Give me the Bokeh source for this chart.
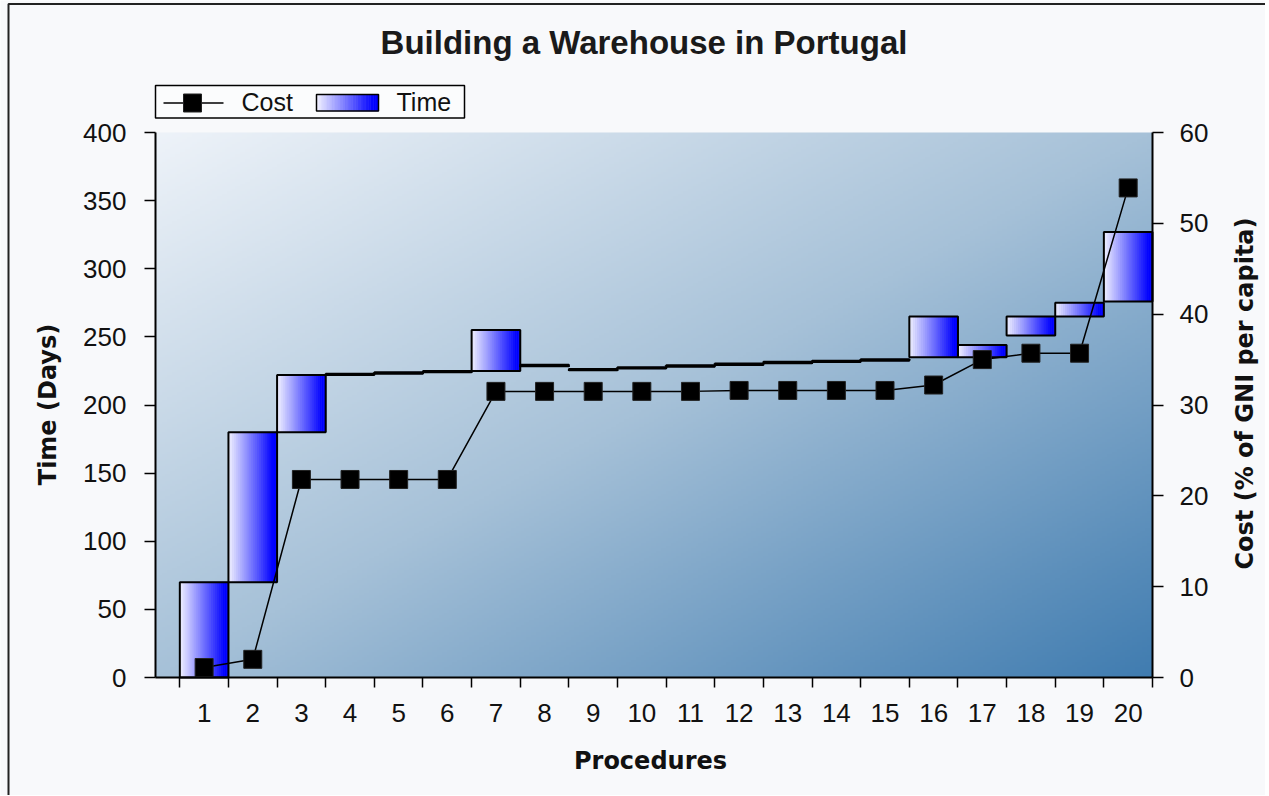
import math
import numpy as np
from bokeh.plotting import figure
from bokeh.models import Range1d, LinearAxis, FixedTicker
from bokeh.core.properties import value
from bokeh.embed import file_html
from bokeh.resources import INLINE

# ---------------- data ----------------
title_text = "Building a Warehouse in Portugal"
legend_labels = ["Cost", "Time"]
x_title = "Procedures"
y_title = "Time (Days)"
y2_title = "Cost (% of GNI per capita)"

procedures = ["1", "2", "3", "4", "5", "6", "7", "8", "9", "10",
              "11", "12", "13", "14", "15", "16", "17", "18", "19", "20"]
time_start = [0, 70, 180, 222, 223, 224, 225, 228.5, 225.5, 226.7,
              228.1, 229.4, 230.7, 231.5, 232.5, 235, 235, 251, 265, 276]
time_end = [70, 180, 222, 223, 224, 225, 255, 229.5, 226.5, 227.7,
            229.1, 230.4, 231.7, 232.5, 233.5, 265, 244, 265, 275, 327]
cost = [1.1, 2.0, 21.8, 21.8, 21.8, 21.8, 31.5, 31.5, 31.5, 31.5,
        31.5, 31.6, 31.6, 31.6, 31.6, 32.2, 35.0, 35.7, 35.7, 53.9]
time_ticks = [0, 50, 100, 150, 200, 250, 300, 350, 400]
cost_ticks = [0, 10, 20, 30, 40, 50, 60]

# ---------------- layout (page pixels) ----------------
PAGE = "#f8f9fb"
W, H = 1265, 795
PLOT_L, PLOT_R, PLOT_T, PLOT_B = 155, 1152, 132, 677
TICK_FONT = "Liberation Sans"
TITLE_FONT = "DejaVu Sans"
N_STRIP = 24

n = len(procedures)
xs = np.arange(1, n + 1, dtype=float)
x_lo, x_hi = 0.0, n + 0.5
y_lo, y_hi = time_ticks[0], time_ticks[-1]
c_lo, c_hi = cost_ticks[0], cost_ticks[-1]
SX = (PLOT_R - PLOT_L) / (x_hi - x_lo)
SY = (PLOT_B - PLOT_T) / (y_hi - y_lo)
SC = (PLOT_B - PLOT_T) / (c_hi - c_lo)


def dx(px):
    return x_lo + (px - PLOT_L) / SX


def dy(py):
    return y_lo + (PLOT_B - py) / SY


def grad_color(s):
    f = max(0.0, 1.0 - s / 0.92)
    c = int(round(245 * f))
    return "#%02x%02x%02x" % (c, c, 255)


strip_colors = [grad_color((k + 0.5) / N_STRIP) for k in range(N_STRIP)]

p = figure(width=W, height=H, x_range=Range1d(dx(0), dx(W)), y_range=Range1d(dy(H), dy(0)),
           output_backend="svg", toolbar_location=None, min_border=0,
           background_fill_color=PAGE, border_fill_color=PAGE, outline_line_color=None)
p.xgrid.visible = False
p.ygrid.visible = False
p.extra_y_ranges = {"cost": Range1d(c_lo + (PLOT_B - H) / SC, c_lo + PLOT_B / SC)}

# window frame lines (top and left) of the picture
p.line(x=[dx(8), dx(8), dx(W)], y=[dy(H), dy(3.5), dy(3.5)], line_color="#222222", line_width=2)

# background gradient of the plot area
nx, ny = 400, 220
u = np.linspace(0, 1, nx)[None, :]
vdown = np.linspace(1, 0, ny)[:, None]
t = 0.5 * (u + vdown)
stops = [0.0, 0.5, 1.0]
R = np.interp(t, stops, [238, 166, 64])
G = np.interp(t, stops, [243, 193, 124])
B = np.interp(t, stops, [249, 216, 176])
img = np.empty((ny, nx), dtype=np.uint32)
view = img.view(dtype=np.uint8).reshape((ny, nx, 4))
view[:, :, 0] = R.astype(np.uint8)
view[:, :, 1] = G.astype(np.uint8)
view[:, :, 2] = B.astype(np.uint8)
view[:, :, 3] = 255
p.image_rgba(image=[img], x=x_lo, y=y_lo, dw=x_hi - x_lo, dh=y_hi - y_lo, level="image")

# gradient strips of the floating bars
L, Rr, Bo, To, C = [], [], [], [], []
for i in range(n):
    for k in range(N_STRIP):
        L.append(xs[i] - 0.5 + k / N_STRIP)
        Rr.append(xs[i] - 0.5 + (k + 1) / N_STRIP)
        Bo.append(time_start[i])
        To.append(time_end[i])
        C.append(strip_colors[k])
p.quad(left=L, right=Rr, bottom=Bo, top=To, fill_color=C, line_color=C, line_width=0.6)
p.quad(left=xs - 0.5, right=xs + 0.5, bottom=time_start, top=time_end,
       fill_color=None, line_color="black", line_width=2)

# cost line
p.line(xs, cost, y_range_name="cost", line_color="black", line_width=1.5)
p.scatter(xs, cost, y_range_name="cost", marker="square", size=18,
          fill_color="black", line_color="#222222", line_width=1)

# ---------------- axes ----------------
xa = p.xaxis[0]
xa.fixed_location = y_lo
xa.bounds = (x_lo, x_hi)
xa.ticker = FixedTicker(ticks=list(xs), minor_ticks=list(np.append(xs - 0.5, xs[-1] + 0.5)))
xa.major_label_overrides = {float(x): lab for x, lab in zip(xs, procedures)}
xa.major_tick_out = 0
xa.major_tick_in = 0
xa.minor_tick_out = 10
xa.minor_tick_in = 0
xa.minor_tick_line_color = "black"
xa.minor_tick_line_width = 1.5
xa.major_label_standoff = 16

ya = p.yaxis[0]
ya.fixed_location = x_lo
ya.bounds = (y_lo, y_hi)
ya.ticker = FixedTicker(ticks=time_ticks)
ya.major_label_standoff = 18

ya2 = LinearAxis(y_range_name="cost", ticker=FixedTicker(ticks=cost_ticks),
                 fixed_location=x_hi, bounds=(c_lo, c_hi))
ya2.major_label_standoff = 16
ya2.major_label_text_align = "left"
p.add_layout(ya2, "right")

for ax in (ya, ya2):
    ax.major_tick_out = 11
    ax.major_tick_in = 0
    ax.minor_tick_out = 0
    ax.minor_tick_in = 0
    ax.major_tick_line_color = "black"
    ax.major_tick_line_width = 1.5

for ax in (xa, ya, ya2):
    ax.axis_line_color = "black"
    ax.axis_line_width = 2
    ax.major_label_text_font = TICK_FONT
    ax.major_label_text_font_size = "26px"
    ax.major_label_text_color = "#111111"

# axis titles
title_style = dict(text_font=value(TITLE_FONT), text_font_style="bold", text_font_size="24px",
                   text_color="#111111", text_align="center", text_baseline="middle")
p.text(x=[dx(650)], y=[dy(760)], text=[x_title], **title_style)
p.text(x=[dx(47)], y=[dy(404)], text=[y_title], angle=math.pi / 2, **title_style)
p.text(x=[dx(1244)], y=[dy(393)], text=[y2_title], angle=math.pi / 2, **title_style)

# chart title
p.text(x=[dx(643.5)], y=[dy(42)], text=[title_text], text_font=value("Liberation Sans"),
       text_font_style="bold", text_font_size="33px", text_align="center",
       text_baseline="middle", text_color="#1a1a1a")

# ---------------- legend ----------------
p.quad(left=[dx(155)], right=[dx(464)], top=[dy(85)], bottom=[dy(117.5)], fill_color="#fbfcfd",
       line_color="black", line_width=1.5)
p.line(x=[dx(163), dx(223)], y=[dy(102.5), dy(102.5)], line_color="black", line_width=1.5)
p.scatter(x=[dx(192)], y=[dy(102.5)], marker="square", size=18, fill_color="black",
          line_color="#222222")
sw_l, sw_r, sw_t, sw_b = 316, 378, 94, 110.5
sw = (sw_r - sw_l) / N_STRIP
p.quad(left=[dx(sw_l + k * sw) for k in range(N_STRIP)],
       right=[dx(sw_l + (k + 1) * sw) for k in range(N_STRIP)],
       top=[dy(sw_t)] * N_STRIP, bottom=[dy(sw_b)] * N_STRIP, fill_color=strip_colors,
       line_color=strip_colors, line_width=0.6)
p.quad(left=[dx(sw_l)], right=[dx(sw_r)], top=[dy(sw_t)], bottom=[dy(sw_b)], fill_color=None,
       line_color="black", line_width=1.5)
p.text(x=[dx(241), dx(396)], y=[dy(101.5), dy(101.5)], text=legend_labels,
       text_font=value("Liberation Sans"), text_font_size="25px", text_align="left",
       text_baseline="middle", text_color="#111111")

open("out.html", "w").write(file_html(p, INLINE))
